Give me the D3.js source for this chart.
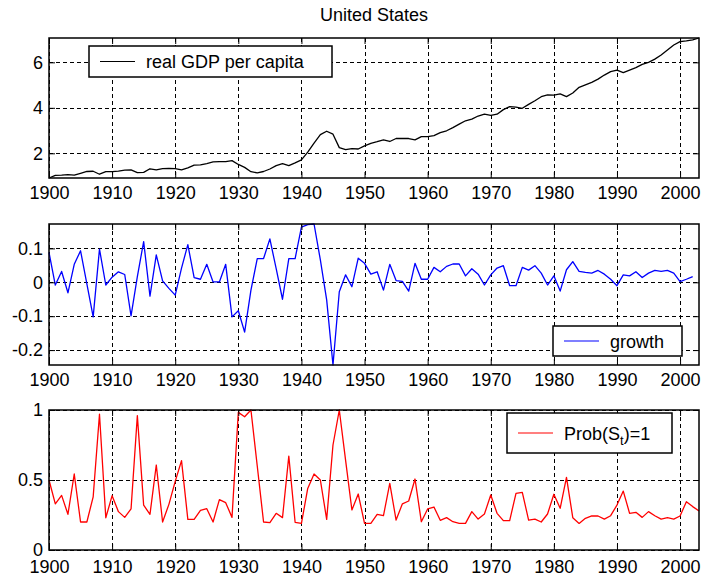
<!DOCTYPE html>
<html>
<head>
<meta charset="utf-8">
<script src="https://cdn.jsdelivr.net/npm/d3@7"></script>
<style>
  html, body { margin: 0; padding: 0; background: #fff; }
  svg { display: block; font-family: "Liberation Sans", Arial, sans-serif; }
</style>
</head>
<body>
<svg id="chart" width="701" height="578"></svg>
<script>
// Annual data, 1900 onwards
const startYear = 1900;

const gdp = [
  0.914, 1.03, 1.04, 1.06, 1.04, 1.12, 1.20, 1.21, 1.08, 1.19,
  1.19, 1.22, 1.26, 1.27, 1.15, 1.16, 1.32, 1.27, 1.33, 1.34,
  1.33, 1.27, 1.36, 1.48, 1.49, 1.55, 1.62, 1.63, 1.63, 1.68,
  1.51, 1.38, 1.19, 1.14, 1.20, 1.31, 1.46, 1.55, 1.46, 1.58,
  1.71, 2.05, 2.45, 2.82, 2.97, 2.84, 2.25, 2.16, 2.21, 2.19,
  2.33, 2.44, 2.51, 2.59, 2.52, 2.65, 2.65, 2.65, 2.59, 2.73,
  2.73, 2.78, 2.91, 2.99, 3.13, 3.28, 3.43, 3.50, 3.64, 3.72,
  3.67, 3.72, 3.92, 4.05, 4.03, 3.98, 4.15, 4.31, 4.49, 4.57,
  4.56, 4.61, 4.49, 4.65, 4.90, 5.01, 5.12, 5.26, 5.44, 5.59,
  5.66, 5.55, 5.66, 5.77, 5.91, 6.00, 6.14, 6.32, 6.54, 6.76,
  6.91, 6.94, 6.99, 7.07
];

const growth = [
  0.088, -0.008, 0.032, -0.031, 0.053, 0.093, -0.005, -0.102, 0.098, -0.008,
  0.015, 0.031, 0.023, -0.099, 0.017, 0.120, -0.041, 0.081, 0.004, -0.018,
  -0.038, 0.042, 0.111, 0.014, 0.009, 0.053, 0.001, 0.001, 0.053, -0.102,
  -0.084, -0.147, -0.023, 0.070, 0.070, 0.128, 0.040, -0.050, 0.070, 0.070,
  0.163, 0.170, 0.172, 0.066, -0.052, -0.244, -0.028, 0.022, -0.013, 0.071,
  0.056, 0.024, 0.031, -0.023, 0.053, 0.005, 0.003, -0.026, 0.056, 0.009,
  0.009, 0.044, 0.031, 0.047, 0.054, 0.054, 0.019, 0.040, 0.024, -0.008,
  0.022, 0.042, 0.049, -0.010, -0.010, 0.044, 0.036, 0.049, 0.027, -0.008,
  0.019, -0.026, 0.037, 0.061, 0.032, 0.029, 0.027, 0.035, 0.024, 0.009,
  -0.010, 0.022, 0.019, 0.031, 0.014, 0.027, 0.035, 0.032, 0.035, 0.027,
  0.002, 0.009, 0.017
];

const prob = [
  0.50, 0.33, 0.39, 0.255, 0.543, 0.20, 0.20, 0.38, 0.97, 0.23,
  0.388, 0.274, 0.233, 0.293, 0.96, 0.32, 0.255, 0.607, 0.20, 0.326,
  0.49, 0.638, 0.219, 0.219, 0.283, 0.295, 0.20, 0.36, 0.338, 0.233,
  0.983, 0.952, 1.00, 0.60, 0.20, 0.195, 0.262, 0.231, 0.671, 0.198,
  0.19, 0.44, 0.543, 0.50, 0.219, 0.75, 1.00, 0.64, 0.286, 0.40,
  0.19, 0.19, 0.255, 0.245, 0.476, 0.214, 0.33, 0.35, 0.507, 0.202,
  0.293, 0.307, 0.212, 0.231, 0.202, 0.19, 0.19, 0.274, 0.221, 0.257,
  0.393, 0.262, 0.21, 0.21, 0.405, 0.412, 0.214, 0.221, 0.20, 0.257,
  0.398, 0.298, 0.519, 0.231, 0.19, 0.226, 0.243, 0.243, 0.221, 0.245,
  0.321, 0.421, 0.262, 0.269, 0.233, 0.274, 0.245, 0.221, 0.231, 0.221,
  0.243, 0.345, 0.31, 0.279
];

const yearTicks = [1900, 1910, 1920, 1930, 1940, 1950, 1960, 1970, 1980, 1990, 2000];
const gdpTicks = [2, 4, 6];
const growthTicks = [-0.2, -0.1, 0, 0.1];
const probTicks = [0, 0.5, 1];

const titleText = "United States";

// ---- layout ----
const svg = d3.select("#chart");
const left = 49, right = 699;
const fontSize = 18;
const tickLen = 6;

const x = d3.scaleLinear().domain([startYear, 2003]).range([left, right]);
const fmt = v => String(v);

function panel(cfg) {
  const { top, bottom, values, yDomain, yTicks, color } = cfg;
  const y = d3.scaleLinear().domain(yDomain).range([bottom, top]);
  const g = svg.append("g");

  // dashed grid
  const grid = g.append("g").attr("stroke", "#000").attr("stroke-width", 1)
    .attr("stroke-dasharray", "4,3").attr("shape-rendering", "crispEdges");
  yearTicks.forEach(t => {
    grid.append("line").attr("x1", Math.round(x(t)) + 0.5).attr("x2", Math.round(x(t)) + 0.5)
      .attr("y1", top).attr("y2", bottom);
  });
  yTicks.forEach(t => {
    grid.append("line").attr("x1", left).attr("x2", right)
      .attr("y1", Math.round(y(t)) + 0.5).attr("y2", Math.round(y(t)) + 0.5);
  });

  // series line
  const line = d3.line().x((d, i) => x(startYear + i)).y(d => y(d));
  g.append("path").datum(values).attr("d", line)
    .attr("fill", "none").attr("stroke", color).attr("stroke-width", 1.3)
    .attr("stroke-linejoin", "round");

  // axes with inward ticks
  const ax = (axis, tx, ty, labels) => {
    const a = g.append("g").attr("transform", `translate(${tx},${ty})`).call(axis);
    a.select(".domain").remove();
    a.selectAll("line").attr("stroke", "#000").attr("stroke-width", 1);
    a.selectAll("text").attr("font-size", fontSize).attr("font-family", null).attr("fill", "#000");
    if (!labels) a.selectAll("text").remove();
    return a;
  };
  ax(d3.axisBottom(x).tickValues(yearTicks).tickFormat(fmt).tickSize(-tickLen).tickPadding(cfg.xPad), 0, bottom, true);
  ax(d3.axisTop(x).tickValues(yearTicks).tickSize(-tickLen), 0, top, false);
  ax(d3.axisLeft(y).tickValues(yTicks).tickFormat(fmt).tickSize(-tickLen).tickPadding(6), left, 0, true);
  ax(d3.axisRight(y).tickValues(yTicks).tickSize(-tickLen), right, 0, false);

  // frame
  g.append("rect").attr("x", left).attr("y", top)
    .attr("width", right - left).attr("height", bottom - top)
    .attr("fill", "none").attr("stroke", "#000").attr("stroke-width", 1.5);

  // legend
  const L = cfg.legend;
  const lg = g.append("g");
  lg.append("rect").attr("x", L.x).attr("y", L.y).attr("width", L.w).attr("height", L.h)
    .attr("fill", "#fff").attr("stroke", "#000").attr("stroke-width", 1.5);
  const cy = L.y + L.h / 2;
  lg.append("line").attr("x1", L.x + 11).attr("x2", L.x + 46).attr("y1", cy).attr("y2", cy)
    .attr("stroke", color).attr("stroke-width", 1.2);
  const txt = lg.append("text").attr("x", L.x + 57).attr("y", cy + 6.5)
    .attr("font-size", fontSize).attr("fill", "#000");
  L.label(txt);
  return y;
}

panel({
  top: 38, bottom: 178, values: gdp, yDomain: d3.extent(gdp), yTicks: gdpTicks, color: "#000", xPad: 8,
  legend: { x: 89, y: 46, w: 243, h: 31, label: t => t.text("real GDP per capita") }
});

panel({
  top: 224, bottom: 365, values: growth, yDomain: d3.extent(growth), yTicks: growthTicks, color: "#0000ff", xPad: 8,
  legend: { x: 553, y: 326, w: 129, h: 30, label: t => t.text("growth") }
});

panel({
  top: 410, bottom: 550, values: prob, yDomain: [0, 1], yTicks: probTicks, color: "#ff0000", xPad: 10,
  legend: { x: 507, y: 413, w: 165, h: 40, label: t => {
    t.append("tspan").text("Prob(S");
    t.append("tspan").attr("font-size", 13).attr("dy", 5).text("t");
    t.append("tspan").attr("dy", -5).text(")=1");
  } }
});

// title
svg.append("text").attr("x", (left + right) / 2).attr("y", 21)
  .attr("text-anchor", "middle").attr("font-size", fontSize).attr("fill", "#000")
  .text(titleText);
</script>
</body>
</html>
